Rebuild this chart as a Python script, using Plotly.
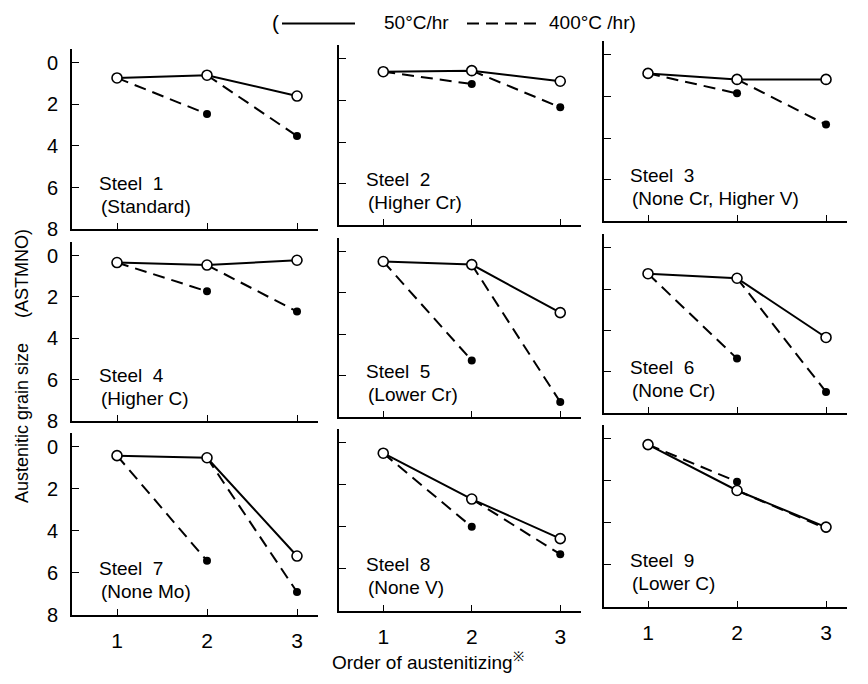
import plotly.graph_objects as go

# ---------------- data ----------------
orders = [1, 2, 3]
steel_names = ["Steel  1", "Steel  2", "Steel  3", "Steel  4", "Steel  5",
               "Steel  6", "Steel  7", "Steel  8", "Steel  9"]
steel_notes = ["(Standard)", "(Higher Cr)", "(None Cr, Higher V)", "(Higher C)",
               "(Lower Cr)", "(None Cr)", "(None Mo)", "(None V)", "(Lower C)"]
# 50 C/hr grain size at austenitizing order 1,2,3
slow_1 = [0.73, 0.6, 1.6]
slow_2 = [0.62, 0.57, 1.08]
slow_3 = [0.89, 1.18, 1.18]
slow_4 = [0.34, 0.46, 0.23]
slow_5 = [0.48, 0.63, 2.95]
slow_6 = [1.26, 1.48, 4.34]
slow_7 = [0.43, 0.53, 5.2]
slow_8 = [0.5, 2.68, 4.56]
slow_9 = [0.28, 2.46, 4.2]
# 400 C/hr grain size at austenitizing order 2,3
fast_1 = [2.46, 3.52]
fast_2 = [1.21, 2.33]
fast_3 = [1.85, 3.35]
fast_4 = [1.73, 2.71]
fast_5 = [5.26, 7.27]
fast_6 = [5.36, 6.97]
fast_7 = [5.43, 6.91]
fast_8 = [4.0, 5.3]
fast_9 = [2.04, 4.27]
slow_all = [slow_1, slow_2, slow_3, slow_4, slow_5, slow_6, slow_7, slow_8, slow_9]
fast_all = [fast_1, fast_2, fast_3, fast_4, fast_5, fast_6, fast_7, fast_8, fast_9]
y_ticks = [0, 2, 4, 6, 8]
x_ticks = [1, 2, 3]

# ---------------- layout geometry ----------------
W, H = 868, 684
FONT = "Liberation Sans"
col_px = [(72, 317.7), (339, 580.6), (603.5, 846.5)]
col_shift = [0, -4, -8]
row_px = [(50, 233), (246, 428), (440, 625)]


def fx(px):
    return px / W


def fy(px):
    return 1 - px / H


fig = go.Figure()
layout = dict(
    width=W, height=H, margin=dict(l=0, r=0, t=0, b=0),
    paper_bgcolor="white", plot_bgcolor="white", showlegend=False,
    font=dict(family=FONT, color="black", size=20),
)
annotations = []

for i in range(9):
    r, c = divmod(i, 3)
    k = "" if i == 0 else str(i + 1)
    xa, ya = "x" + k, "y" + k
    slow = slow_all[i]
    fast = fast_all[i]
    # dashed 400 C/hr: from the previous open point to the filled point
    fig.add_trace(go.Scatter(
        x=[orders[0], orders[1], None, orders[1], orders[2]],
        y=[slow[0], fast[0], None, slow[1], fast[1]],
        mode="lines", line=dict(color="black", width=2, dash="12px,7px"),
        xaxis=xa, yaxis=ya, hoverinfo="skip"))
    fig.add_trace(go.Scatter(
        x=orders[1:], y=fast, mode="markers",
        marker=dict(color="black", size=8, line=dict(width=0)),
        xaxis=xa, yaxis=ya))
    fig.add_trace(go.Scatter(
        x=orders, y=slow, mode="lines+markers",
        line=dict(color="black", width=2),
        marker=dict(color="white", size=10, line=dict(color="black", width=1.6)),
        xaxis=xa, yaxis=ya))

    x0, x1 = col_px[c]
    t, b = row_px[r]
    t += col_shift[c]
    b += col_shift[c]
    layout["xaxis" + k] = dict(
        domain=[fx(x0), fx(x1)], range=[0.5, 3.23], anchor=ya,
        showline=True, linecolor="black", linewidth=2,
        ticks="inside", ticklen=6, tickwidth=1.2, tickcolor="black",
        tickvals=x_ticks, ticktext=[str(v) for v in x_ticks],
        showticklabels=(r == 2), ticklabelstandoff=6,
        showgrid=False, zeroline=False,
        tickfont=dict(family=FONT, size=21))
    layout["yaxis" + k] = dict(
        domain=[fy(b), fy(t)], range=[8, -0.65], anchor=xa,
        showline=True, linecolor="black", linewidth=2,
        ticks="inside", ticklen=7, tickwidth=1.2, tickcolor="black",
        tickvals=y_ticks, ticktext=[str(v) for v in y_ticks],
        showticklabels=(c == 0), ticklabelstandoff=8,
        showgrid=False, zeroline=False,
        tickfont=dict(family=FONT, size=20))
    annotations.append(dict(x=0.78, y=5.8, xref=xa, yref=ya, text=steel_names[i],
                            showarrow=False, xanchor="left", yanchor="middle",
                            font=dict(family=FONT, size=19)))
    annotations.append(dict(x=0.8, y=6.9, xref=xa, yref=ya, text=steel_notes[i],
                            showarrow=False, xanchor="left", yanchor="middle",
                            font=dict(family=FONT, size=19)))

# axis titles
annotations.append(dict(x=fx(22), y=fy(372), xref="paper", yref="paper",
                        text="Austenitic grain size&nbsp;&nbsp;&nbsp;&nbsp;&nbsp;(ASTMNO)",
                        textangle=-90, showarrow=False, xanchor="center", yanchor="middle",
                        font=dict(family=FONT, size=18)))
annotations.append(dict(x=fx(330), y=fy(672), xref="paper", yref="paper",
                        text="Order of austenitizing<sup>※</sup>", xanchor="left",
                        yanchor="middle", showarrow=False, font=dict(family=FONT, size=19)))
# legend text
annotations.append(dict(x=fx(270), y=fy(23), xref="paper", yref="paper", text="(",
                        xanchor="left", yanchor="middle", showarrow=False,
                        font=dict(family=FONT, size=21)))
annotations.append(dict(x=fx(382), y=fy(23), xref="paper", yref="paper", text="50°C/hr",
                        xanchor="left", yanchor="middle", showarrow=False,
                        font=dict(family=FONT, size=19)))
annotations.append(dict(x=fx(547), y=fy(23), xref="paper", yref="paper", text="400°C /hr)",
                        xanchor="left", yanchor="middle", showarrow=False,
                        font=dict(family=FONT, size=19)))
layout["annotations"] = annotations
layout["shapes"] = [
    dict(type="line", xref="paper", yref="paper", x0=fx(282), x1=fx(355),
         y0=fy(24), y1=fy(24), line=dict(color="black", width=2)),
    dict(type="line", xref="paper", yref="paper", x0=fx(467), x1=fx(543),
         y0=fy(24), y1=fy(24), line=dict(color="black", width=2, dash="12px,7px")),
]
fig.update_layout(**layout)
fig.write_html("out.html",
               post_script="document.body.style.margin='0';document.body.style.overflow='hidden';",
               config={"displayModeBar": False})
